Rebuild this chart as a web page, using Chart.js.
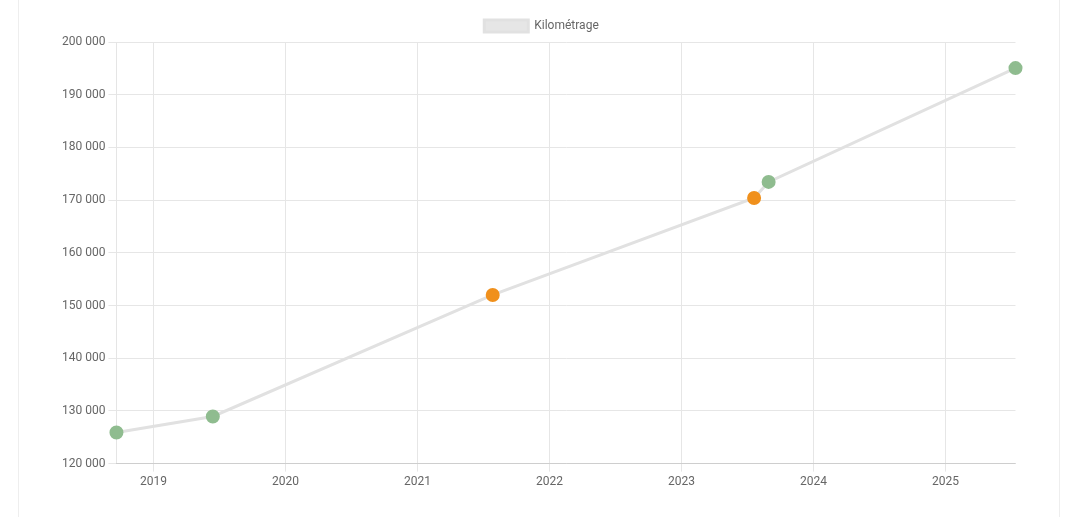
<!DOCTYPE html>
<html><head><meta charset="utf-8">
<script src="https://cdn.jsdelivr.net/npm/chart.js@4"></script>
<style>
html,body{margin:0;padding:0;background:#fff;}
#card{position:absolute;left:18px;top:-2px;width:1042px;height:530px;border:1px solid #eee;box-sizing:border-box;}
#wrap{position:absolute;left:59px;top:10px;width:965px;height:482px;}
</style></head><body>
<div id="card"></div>
<div id="wrap"><canvas id="c"></canvas></div>
<script>
const dates = [2018.72, 2019.45, 2021.57, 2023.55, 2023.66, 2025.53];
const km = [125900, 128950, 152000, 170400, 173450, 195050];
const pointColors = ['#8fbc8f','#8fbc8f','#f0901c','#f0901c','#8fbc8f','#8fbc8f'];
const yearTicks = [2019,2020,2021,2022,2023,2024,2025];
const fmt = v => String(v).replace(/\B(?=(\d{3})+(?!\d))/g,' ');
Chart.defaults.font.family = 'Roboto';
Chart.defaults.color = '#666';
new Chart(document.getElementById('c'), {
  type: 'line',
  data: { datasets: [{
    label: 'Kilométrage',
    data: dates.map((d,i)=>({x:d,y:km[i]})),
    borderColor: 'rgba(225,225,225,1)',
    backgroundColor: 'rgba(230,230,230,1)',
    borderWidth: 3,
    pointBackgroundColor: pointColors,
    pointBorderColor: pointColors,
    pointRadius: 5.5,
    clip: false,
    tension: 0
  }]},
  options: {
    responsive: true, maintainAspectRatio: false, animation: false,
    plugins: { legend: { labels: { boxWidth: 44, boxHeight: 12, color:'#666', font:{size:12} } }, tooltip:{enabled:false} },
    scales: {
      x: { type: 'linear', min: 2018.72, max: 2025.53,
        afterBuildTicks: s => { s.ticks = yearTicks.map(v=>({value:v})); },
        ticks: { callback: v => String(v), font:{size:12} },
        grid: { color: '#e6e6e6' } },
      y: { min: 120000, max: 200000,
        ticks: { stepSize: 10000, callback: v => fmt(v), font:{size:12} },
        grid: { color: '#e6e6e6' } }
    }
  }
});
</script></body></html>
